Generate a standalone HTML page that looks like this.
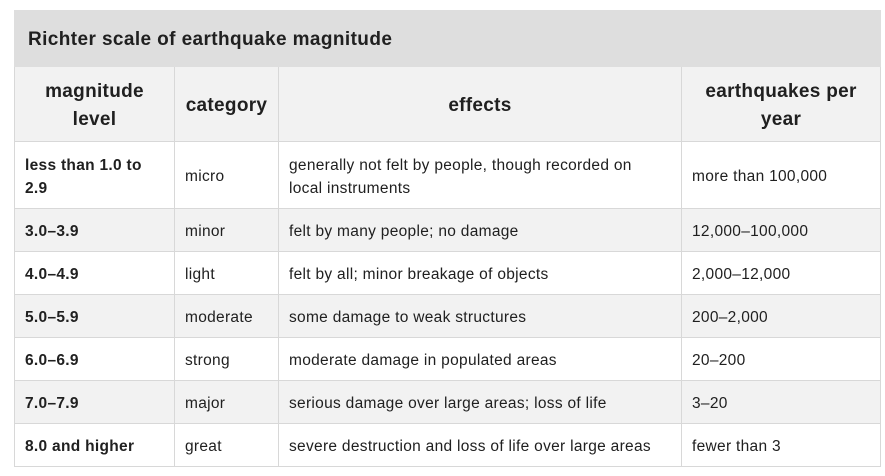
<!DOCTYPE html>
<html><head><meta charset="utf-8"><style>
body{margin:0;background:#fff;width:885px;height:476px;overflow:hidden;font-family:"Liberation Sans",sans-serif;color:#202020}
table{position:absolute;left:14px;top:10px;border-collapse:collapse;width:866px;table-layout:fixed}
td,th{border:1px solid #d8d8d8;padding:3px 10px 0 10px;font-size:15.5px;letter-spacing:0.3px;vertical-align:middle;text-align:left;white-space:nowrap}
.cap{background:#dedede;height:52px;font-size:19px;letter-spacing:0.4px;font-weight:bold;padding-left:13px;border-color:#dedede}
th{background:#f2f2f2;height:71px;font-size:19px;letter-spacing:0.3px;text-align:center;line-height:28px}
tr.r td{height:39px}
tr.g td{background:#f2f2f2}
td.b{font-weight:bold}
tr.big td{height:63px;line-height:23px}
</style></head><body>
<table>
<colgroup><col style="width:160px"><col style="width:104px"><col style="width:403px"><col style="width:199px"></colgroup>
<tr><td colspan="4" class="cap">Richter scale of earthquake magnitude</td></tr>
<tr><th>magnitude<br>level</th><th>category</th><th>effects</th><th>earthquakes per<br>year</th></tr>
<tr class="r big"><td class="b">less than 1.0 to<br>2.9</td><td>micro</td><td>generally not felt by people, though recorded on<br>local instruments</td><td>more than 100,000</td></tr>
<tr class="r g"><td class="b">3.0–3.9</td><td>minor</td><td>felt by many people; no damage</td><td>12,000–100,000</td></tr>
<tr class="r"><td class="b">4.0–4.9</td><td>light</td><td>felt by all; minor breakage of objects</td><td>2,000–12,000</td></tr>
<tr class="r g"><td class="b">5.0–5.9</td><td>moderate</td><td>some damage to weak structures</td><td>200–2,000</td></tr>
<tr class="r"><td class="b">6.0–6.9</td><td>strong</td><td>moderate damage in populated areas</td><td>20–200</td></tr>
<tr class="r g"><td class="b">7.0–7.9</td><td>major</td><td>serious damage over large areas; loss of life</td><td>3–20</td></tr>
<tr class="r"><td class="b">8.0 and higher</td><td>great</td><td>severe destruction and loss of life over large areas</td><td>fewer than 3</td></tr>
</table>
</body></html>
